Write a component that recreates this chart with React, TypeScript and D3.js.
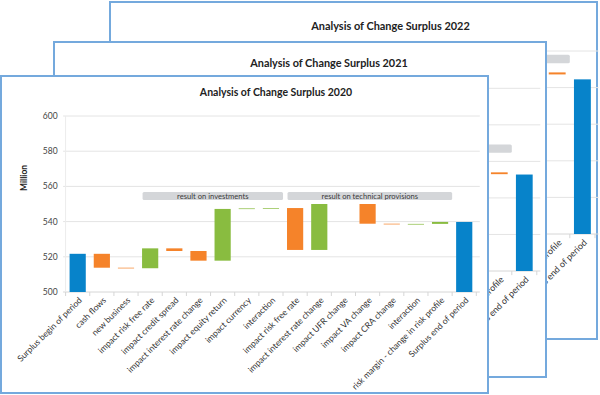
import React from "react";
import * as d3 from "d3";

// categories of the analysis of change
const categories = [
  "Surplus begin of period",
  "cash flows",
  "new business",
  "impact risk free rate",
  "impact credit spread",
  "impact interest rate change",
  "impact equity return",
  "impact currency",
  "interaction",
  "impact risk free rate ",
  "impact interest rate change ",
  "impact UFR change",
  "impact VA change",
  "impact CRA change",
  "interaction ",
  "risk margin - change in risk profile",
  "Surplus end of period",
];

const yTicks = [500, 520, 540, 560, 580, 600];

// 2020 (front chart)
const begin2020 = 521.7;
const changes2020 = [-7.9, -0.3, 11.3, -1.5, -5.5, 29.4, 0.3, 0.2, -23.8, 26.1, 0, -11.2, -0.2, 0.1, 1.1];
const end2020 = 539.8;

// 2021 / 2022 (only the right end is visible)
const levelBeforeRiskMargin2021 = 554.0;
const riskMargin2021 = -1.0;
const end2021 = 552.8;
const levelBeforeRiskMargin2022 = 588.3;
const riskMargin2022 = -1.1;
const end2022 = 584.5;

const groups = [
  { label: "result on investments", from: 3, to: 8 },
  { label: "result on technical provisions", from: 9, to: 15 },
];
const groupTop = { 2020: 556.8, 2021: 569.2, 2022: 597.9 };

const BLUE = "#0783ca";
const ORANGE = "#f5832a";
const GREEN = "#89bc40";
const FONT = "Lato, 'Open Sans', sans-serif";

type Bar = { i: number; a: number; b: number; color: string };

function barsFrom2020(): Bar[] {
  const out: Bar[] = [{ i: 0, a: 500, b: begin2020, color: BLUE }];
  let level = begin2020;
  changes2020.forEach((c, k) => {
    out.push({ i: k + 1, a: level, b: level + c, color: c >= 0 ? GREEN : ORANGE });
    level += c;
  });
  out.push({ i: 16, a: 500, b: end2020, color: BLUE });
  return out;
}

function barsRight(level: number, rm: number, end: number): Bar[] {
  return [
    { i: 15, a: level, b: level + rm, color: rm >= 0 ? GREEN : ORANGE },
    { i: 16, a: 500, b: end, color: BLUE },
  ];
}

type Layout = {
  box: [number, number, number, number];
  x0: number;
  x1: number;
  yBase: number;
  yTop: number;
  titleX: number;
  titleY: number;
  millX: number;
  millY: number;
};

// full=false: panel sits behind another one, only its right end shows
function Panel({ layout, title, bars, gTop, full }: { layout: Layout; title: string; bars: Bar[]; gTop: number; full: boolean }) {
  const x = d3
    .scaleBand<string>()
    .domain(categories)
    .range([layout.x0, layout.x1])
    .paddingInner(0.33)
    .paddingOuter(0.165);
  const y = d3.scaleLinear().domain([500, 600]).range([layout.yBase, layout.yTop]);
  const step = x.step();
  const k = step / 24.15;
  const half = (step * 0.33) / 2;
  const bw = x.bandwidth();
  const [bx, by, bwid, bh] = layout.box;
  const gx0 = layout.x0 - 2.5;
  const gx1 = layout.x1 + 3.5;
  return (
    <g>
      <rect x={bx} y={by} width={bwid} height={bh} fill="#fff" stroke="#74a9dd" strokeWidth={2} />
      <text x={layout.titleX} y={layout.titleY} textAnchor="middle" dy="0.35em" fontFamily={FONT} fontWeight="bold" fontSize={10.5 * k} fill="#222">
        {title}
      </text>
      {yTicks.map((t) => (
        <g key={t}>
          <line x1={gx0} x2={gx1} y1={y(t)} y2={y(t)} stroke={t === 500 ? "#d6d6d6" : "#e4e4e4"} strokeWidth={1} />
          {full && (
            <text x={layout.x0 - 8 * k} y={y(t)} dy="0.35em" textAnchor="end" fontFamily={FONT} fontSize={8.5 * k} fill="#444">
              {t}
            </text>
          )}
        </g>
      ))}
      <line x1={layout.x0} x2={layout.x0} y1={y(600)} y2={y(500)} stroke="#ececec" />
      {full && (
        <text transform={`translate(${layout.millX},${layout.millY}) rotate(-90)`} textAnchor="middle" dy="0.35em" fontFamily={FONT} fontWeight="bold" fontSize={8.5 * k} fill="#222">
          Million
        </text>
      )}
      {categories.map((c, i) => (
        <line key={"t" + i} x1={x(c)! - half} x2={x(c)! - half} y1={y(500)} y2={y(500) + 4 * k} stroke="#d6d6d6" />
      ))}
      <line x1={x(categories[16])! + bw + half} x2={x(categories[16])! + bw + half} y1={y(500)} y2={y(500) + 4 * k} stroke="#d6d6d6" />
      {groups.map((g) => {
        const gl = x(categories[g.from])! - half + 4.5 * k;
        const gr = x(categories[g.to])! + bw + half;
        const gy = y(gTop);
        return (
          <g key={g.label}>
            <rect x={gl} y={gy} width={gr - gl} height={8 * k} rx={1.5} fill="#d4d6d9" />
            {full && (
              <text x={(gl + gr) / 2} y={gy + 4 * k} dy="0.35em" textAnchor="middle" fontFamily={FONT} fontSize={7.6 * k} fill="#3a3a3a">
                {g.label}
              </text>
            )}
          </g>
        );
      })}
      {bars.map((b) => {
        const top = Math.min(y(b.a), y(b.b));
        const h = Math.max(Math.abs(y(b.a) - y(b.b)), 0.7);
        if (b.a === b.b) return null;
        return <rect key={"b" + b.i} x={x(categories[b.i])} y={top} width={bw} height={h} fill={b.color} />;
      })}
      {categories.map((c, i) =>
        full || i >= 15 ? (
          <text
            key={"l" + i}
            transform={`translate(${x(c)! + bw / 2 + 3 * k},${y(500) + 7 * k}) rotate(-45)`}
            textAnchor="end"
            dy="0.3em"
            fontFamily={FONT}
            fontSize={8.6 * k}
            fill="#333"
          >
            {c.trim()}
          </text>
        ) : null
      )}
    </g>
  );
}

const layout2022: Layout = { box: [110, 2, 487, 337], x0: 166.6, x1: 595, yBase: 234, yTop: 51, titleX: 390.5, titleY: 26, millX: 135, millY: 120 };
const layout2021: Layout = { box: [54, 42, 492, 335], x0: 111.8, x1: 536.8, yBase: 271, yTop: 88.3, titleX: 329, titleY: 63, millX: 79, millY: 160 };
const layout2020: Layout = { box: [1, 76, 487, 317], x0: 65.6, x1: 476.3, yBase: 292, yTop: 116, titleX: 276, titleY: 92, millX: 24, millY: 178 };

export default function App() {
  return (
    <svg width={600} height={395} style={{ position: "absolute", left: 0, top: 0, background: "#fff" }}>
      <Panel layout={layout2022} title="Analysis of Change Surplus 2022" bars={barsRight(levelBeforeRiskMargin2022, riskMargin2022, end2022)} gTop={groupTop[2022]} full={false} />
      <Panel layout={layout2021} title="Analysis of Change Surplus 2021" bars={barsRight(levelBeforeRiskMargin2021, riskMargin2021, end2021)} gTop={groupTop[2021]} full={false} />
      <Panel layout={layout2020} title="Analysis of Change Surplus 2020" bars={barsFrom2020()} gTop={groupTop[2020]} full={true} />
    </svg>
  );
}
